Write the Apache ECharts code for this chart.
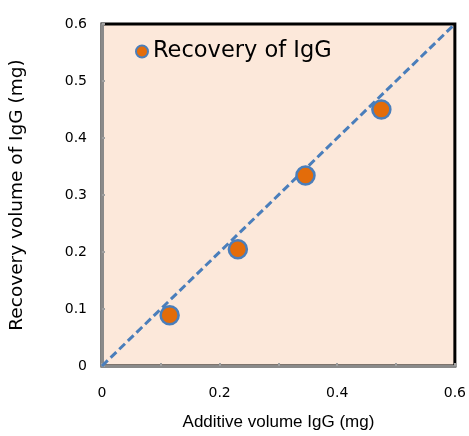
<!DOCTYPE html>
<html><head><meta charset="utf-8">
<script src="https://cdn.jsdelivr.net/npm/echarts@6/dist/echarts.min.js"></script>
<style>html,body{margin:0;padding:0;background:#fff}#c{width:469px;height:436px}</style>
</head><body><div id="c"></div>
<script>
const seriesName = 'Recovery of IgG';
const additiveX = [0.115, 0.231, 0.346, 0.475];
const recoveryY = [0.089, 0.205, 0.334, 0.450];
const refLineX = [0, 0.6];
const refLineY = [0, 0.6];
const xTitle = 'Additive volume IgG (mg)';
const yTitle = 'Recovery volume of IgG (mg)';

const chart = echarts.init(document.getElementById('c'));
chart.setOption({
  animation: false,
  grid: { left: 102, right: 11, top: 24, bottom: 63, show: true, backgroundColor: '#FCE8DA', borderColor: '#000', borderWidth: 3 },
  legend: {
    data: [{ name: seriesName, icon: 'circle' }],
    left: 130, top: 35, itemWidth: 12, itemHeight: 12, itemGap: 9,
    textStyle: { fontFamily: 'DejaVu Sans', fontSize: 22.5, color: '#000' }
  },
  xAxis: {
    type: 'value', min: 0, max: 0.6, interval: 0.1,
    name: xTitle, nameLocation: 'middle', nameGap: 48,
    nameTextStyle: { fontFamily: 'Liberation Sans', fontSize: 17, color: '#000' },
    axisLine: { show: true, onZero: false, lineStyle: { color: '#8a8a8a', width: 3 } },
    axisTick: { show: true, inside: true, length: 3, lineStyle: { color: '#a0a0a0', width: 2 } },
    axisLabel: { margin: 20, fontFamily: 'DejaVu Sans', fontSize: 14, color: '#000',
      formatter: v => (Math.abs(Math.round(v * 10) % 2) === 0 ? String(Math.round(v * 10) / 10) : '') },
    splitLine: { show: false }
  },
  yAxis: {
    type: 'value', min: 0, max: 0.6, interval: 0.1,
    name: yTitle, nameLocation: 'middle', nameGap: 75,
    nameTextStyle: { fontFamily: 'DejaVu Sans', fontSize: 18.5, color: '#000' },
    axisLine: { show: true, onZero: false, lineStyle: { color: '#8a8a8a', width: 3 } },
    axisTick: { show: true, inside: true, length: 3, lineStyle: { color: '#a0a0a0', width: 2 } },
    axisLabel: { margin: 15, fontFamily: 'DejaVu Sans', fontSize: 14, color: '#000',
      formatter: v => String(Math.round(v * 10) / 10) },
    splitLine: { show: false }
  },
  series: [
    {
      name: 'ref', type: 'line', symbol: 'none', silent: true, z: 2,
      data: refLineX.map((x, i) => [x, refLineY[i]]),
      lineStyle: { color: '#4A7EBB', width: 3, type: [8, 4] }
    },
    {
      name: seriesName, type: 'scatter', symbol: 'circle', symbolSize: 18, z: 3,
      data: additiveX.map((x, i) => [x, recoveryY[i]]),
      itemStyle: { color: '#E36C0A', borderColor: '#4A7EBB', borderWidth: 2.5, opacity: 1 }
    }
  ]
});
</script></body></html>
